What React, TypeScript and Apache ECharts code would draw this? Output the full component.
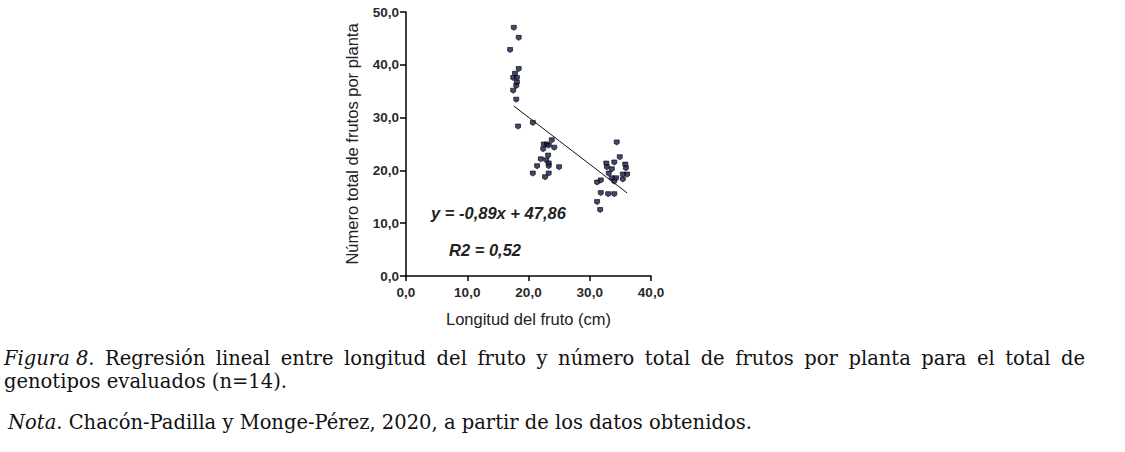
import React, { useEffect, useRef } from "react";
import * as echarts from "echarts";

const xTicks = [0, 10, 20, 30, 40];
const yTicks = [0, 10, 20, 30, 40, 50];

const groupA: [number, number][] = [
  [17.6, 47.0], [18.4, 45.1], [17.0, 42.8], [18.4, 39.2], [17.8, 38.3], [18.1, 37.5],
  [17.5, 37.5], [18.1, 36.6], [18.0, 36.0], [17.5, 35.1], [18.0, 33.4], [18.3, 28.3],
  [20.7, 29.0],
];
const groupB: [number, number][] = [
  [23.8, 25.7], [22.5, 24.9], [23.0, 24.9], [23.3, 24.7], [24.2, 24.3], [22.4, 24.0],
  [23.2, 22.8], [22.0, 22.1], [22.9, 21.9], [23.3, 21.3], [21.4, 20.8], [23.3, 20.8],
  [25.0, 20.6], [20.7, 19.4], [23.3, 19.4], [22.7, 18.7],
];
const groupC: [number, number][] = [
  [34.4, 25.3], [34.9, 22.5], [32.7, 21.3], [34.0, 21.5], [35.8, 21.1], [32.8, 20.6],
  [33.6, 20.2], [35.9, 20.4], [33.1, 19.4], [35.4, 19.2], [36.1, 19.2], [33.6, 18.5],
  [34.3, 18.5], [35.4, 18.3], [31.8, 18.1], [31.2, 17.7], [34.0, 17.9], [31.8, 15.7],
  [33.0, 15.5], [34.0, 15.5], [31.2, 14.0], [31.7, 12.5],
];
const slope = -0.89;
const intercept = 47.86;
const lineX = [17.6, 36.1];

const eqText = "y = -0,89x + 47,86";
const r2Text = "R2 = 0,52";
const xName = "Longitud del fruto (cm)";
const yName = "Número total de frutos por planta";
const captionLine1 = "Regresión lineal entre longitud del fruto y número total de frutos por planta para el total de";
const captionLabel = "Figura 8";
const captionLine2 = "genotipos evaluados (n=14).";
const noteLabel = "Nota";
const noteText = ". Chacón-Padilla y Monge-Pérez, 2020, a partir de los datos obtenidos.";

export default function App() {
  const ref = useRef<HTMLDivElement>(null);
  useEffect(() => {
    const chart = echarts.init(ref.current!, null, { renderer: "svg" });
    const fmt = (v: number) => v.toFixed(1).replace(".", ",");
    const sans = "'Liberation Sans', Arial";
    const axisLabel = {
      formatter: fmt,
      fontFamily: sans,
      fontWeight: "bold" as const,
      fontSize: 13.5,
      color: "#2a2a2a",
    };
    const marker = "path://M0,0 L10,0 L10,7 L5,10 L0,7 Z";
    const serif = "DejaVu Serif";
    const fs = 19.5;

    // justified first caption line
    const ctx = document.createElement("canvas").getContext("2d")!;
    const pieces: { text: string; italic: boolean; w: number }[] = [];
    ctx.font = `italic ${fs}px '${serif}'`;
    const labelW = ctx.measureText(captionLabel).width;
    ctx.font = `${fs}px '${serif}'`;
    const dotW = ctx.measureText(".").width;
    pieces.push({ text: captionLabel, italic: true, w: labelW + dotW });
    captionLine1.split(" ").forEach((w) => pieces.push({ text: w, italic: false, w: ctx.measureText(w).width }));
    const startX = 4;
    const endX = 1085;
    const totalW = pieces.reduce((s, p) => s + p.w, 0);
    const gap = (endX - startX - totalW) / (pieces.length - 1);
    let cx = startX;
    const line1Graphics: any[] = pieces.map((p, i) => {
      const el = {
        type: "text",
        left: cx,
        top: 348,
        style: i === 0
          ? {
              text: `{i|${p.text}}.`,
              fontFamily: serif,
              fontSize: fs,
              fill: "#111",
              rich: { i: { fontStyle: "italic", fontFamily: serif, fontSize: fs, fill: "#111" } },
            }
          : { text: p.text, fontFamily: serif, fontSize: fs, fill: "#111" },
      };
      cx += p.w + gap;
      return el;
    });

    chart.setOption({
      animation: false,
      grid: { left: 406, right: 474, top: 12, bottom: 176 },
      xAxis: {
        type: "value",
        min: 0,
        max: 40,
        interval: 10,
        name: xName,
        nameLocation: "middle",
        nameGap: 34,
        nameTextStyle: { fontFamily: sans, fontSize: 16.5, color: "#222" },
        axisLine: { lineStyle: { color: "#000", width: 1.5 } },
        axisTick: { show: true, length: 5, lineStyle: { color: "#000", width: 1.5 } },
        axisLabel: { ...axisLabel, margin: 9 },
        splitLine: { show: false },
      },
      yAxis: {
        type: "value",
        min: 0,
        max: 50,
        interval: 10,
        name: yName,
        nameLocation: "middle",
        nameGap: 46,
        nameRotate: 90,
        nameTextStyle: { fontFamily: sans, fontSize: 16.5, color: "#222" },
        axisLine: { lineStyle: { color: "#000", width: 1.5 } },
        axisTick: { show: true, length: 6, lineStyle: { color: "#000", width: 1.5 } },
        axisLabel: { ...axisLabel, margin: 7 },
        splitLine: { show: false },
      },
      series: [
        ...[groupA, groupB, groupC].map((g) => ({
          type: "scatter",
          data: g,
          symbol: marker,
          symbolSize: [5, 5],
          itemStyle: { color: "#141a44", borderColor: "#05050f", borderWidth: 0.8 },
        })),
        {
          type: "line",
          data: lineX.map((x) => [x, slope * x + intercept]),
          symbol: "none",
          lineStyle: { color: "#111", width: 1 },
        },
      ],
      graphic: [
        {
          type: "text",
          left: 431,
          top: 204,
          style: { text: eqText, font: `italic bold 16.5px ${sans}`, fill: "#222" },
        },
        {
          type: "text",
          left: 449,
          top: 241,
          style: { text: r2Text, font: `italic bold 16.5px ${sans}`, fill: "#222" },
        },
        ...line1Graphics,
        {
          type: "text",
          left: 4,
          top: 371,
          style: { text: captionLine2, fontFamily: serif, fontSize: fs, fill: "#111" },
        },
        {
          type: "text",
          left: 8,
          top: 412,
          style: {
            text: `{i|${noteLabel}}${noteText}`,
            fontFamily: serif,
            fontSize: fs,
            fill: "#111",
            rich: { i: { fontStyle: "italic", fontFamily: serif, fontSize: fs, fill: "#111" } },
          },
        },
      ],
    });
    return () => chart.dispose();
  }, []);
  return (
    <div
      ref={ref}
      style={{ position: "absolute", left: 0, top: 0, width: 1125, height: 452, background: "#fff" }}
    />
  );
}
